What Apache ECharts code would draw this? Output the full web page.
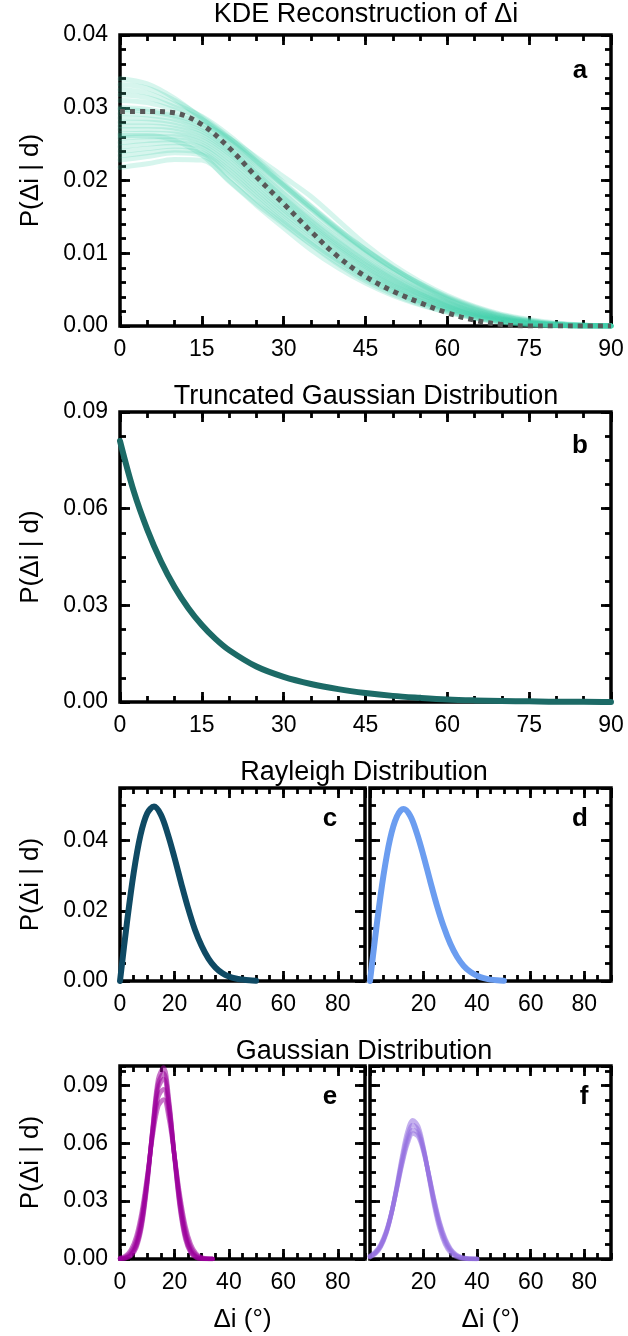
<!DOCTYPE html>
<html>
<head>
<meta charset="utf-8">
<script src="https://cdn.jsdelivr.net/npm/echarts@6/dist/echarts.min.js"></script>
<style>
  html, body { margin: 0; padding: 0; background: #fff; }
  #chart { width: 628px; height: 1336px; }
</style>
</head>
<body>
<div id="chart"></div>
<script>
// ---- Panel a: KDE reconstruction (posterior draws + dotted reference curve) ----
const kdeAngles = [0, 5, 10, 15, 20, 25, 30, 35, 40, 45, 50, 55, 60, 65, 70, 75, 80, 85, 90];
const kdeDraws = [
  [0.0340, 0.0333, 0.0313, 0.0285, 0.0255, 0.0224, 0.0193, 0.0162, 0.0132, 0.0104, 0.0079, 0.0058, 0.0040, 0.0026, 0.0015, 0.0008, 0.0003, 0.0001, 0],
  [0.0332, 0.0327, 0.0310, 0.0287, 0.0259, 0.0227, 0.0195, 0.0164, 0.0133, 0.0105, 0.0080, 0.0058, 0.0039, 0.0025, 0.0014, 0.0007, 0.0003, 0.0001, 0],
  [0.0325, 0.0320, 0.0305, 0.0288, 0.0262, 0.0230, 0.0197, 0.0165, 0.0134, 0.0105, 0.0080, 0.0057, 0.0038, 0.0024, 0.0014, 0.0007, 0.0003, 0.0001, 0],
  [0.0318, 0.0314, 0.0301, 0.0284, 0.0258, 0.0226, 0.0193, 0.0161, 0.0130, 0.0102, 0.0077, 0.0055, 0.0037, 0.0023, 0.0013, 0.0006, 0.0002, 0.0001, 0],
  [0.0310, 0.0307, 0.0297, 0.0280, 0.0254, 0.0221, 0.0188, 0.0157, 0.0127, 0.0099, 0.0074, 0.0053, 0.0036, 0.0022, 0.0012, 0.0006, 0.0002, 0.0001, 0],
  [0.0300, 0.0298, 0.0290, 0.0278, 0.0258, 0.0232, 0.0205, 0.0178, 0.0145, 0.0112, 0.0084, 0.0061, 0.0042, 0.0027, 0.0016, 0.0009, 0.0004, 0.0001, 0],
  [0.0298, 0.0295, 0.0288, 0.0274, 0.0249, 0.0216, 0.0182, 0.0150, 0.0121, 0.0094, 0.0070, 0.0050, 0.0033, 0.0020, 0.0011, 0.0005, 0.0002, 0, 0],
  [0.0292, 0.0290, 0.0284, 0.0271, 0.0246, 0.0213, 0.0179, 0.0147, 0.0118, 0.0091, 0.0068, 0.0048, 0.0032, 0.0019, 0.0010, 0.0005, 0.0002, 0, 0],
  [0.0286, 0.0285, 0.0280, 0.0268, 0.0243, 0.0210, 0.0176, 0.0144, 0.0115, 0.0089, 0.0066, 0.0047, 0.0031, 0.0019, 0.0010, 0.0005, 0.0002, 0, 0],
  [0.0280, 0.0280, 0.0276, 0.0265, 0.0240, 0.0207, 0.0173, 0.0141, 0.0112, 0.0086, 0.0064, 0.0045, 0.0030, 0.0018, 0.0009, 0.0004, 0.0001, 0, 0],
  [0.0275, 0.0275, 0.0272, 0.0262, 0.0237, 0.0204, 0.0170, 0.0139, 0.0110, 0.0084, 0.0062, 0.0044, 0.0029, 0.0017, 0.0009, 0.0004, 0.0001, 0, 0],
  [0.0270, 0.0270, 0.0268, 0.0258, 0.0234, 0.0201, 0.0167, 0.0136, 0.0108, 0.0082, 0.0060, 0.0043, 0.0028, 0.0017, 0.0009, 0.0004, 0.0001, 0, 0],
  [0.0264, 0.0265, 0.0264, 0.0255, 0.0230, 0.0197, 0.0163, 0.0133, 0.0105, 0.0080, 0.0058, 0.0041, 0.0027, 0.0016, 0.0008, 0.0004, 0.0001, 0, 0],
  [0.0262, 0.0262, 0.0255, 0.0235, 0.0200, 0.0168, 0.0140, 0.0112, 0.0085, 0.0062, 0.0044, 0.0030, 0.0019, 0.0011, 0.0005, 0.0002, 0, 0, 0],
  [0.0258, 0.0260, 0.0260, 0.0251, 0.0226, 0.0193, 0.0160, 0.0130, 0.0102, 0.0077, 0.0056, 0.0040, 0.0026, 0.0015, 0.0008, 0.0003, 0.0001, 0, 0],
  [0.0252, 0.0255, 0.0256, 0.0248, 0.0222, 0.0189, 0.0156, 0.0127, 0.0099, 0.0075, 0.0055, 0.0038, 0.0025, 0.0015, 0.0008, 0.0003, 0.0001, 0, 0],
  [0.0246, 0.0250, 0.0252, 0.0245, 0.0218, 0.0185, 0.0153, 0.0124, 0.0096, 0.0072, 0.0053, 0.0037, 0.0024, 0.0014, 0.0007, 0.0003, 0.0001, 0, 0],
  [0.0240, 0.0244, 0.0247, 0.0241, 0.0214, 0.0181, 0.0149, 0.0120, 0.0093, 0.0070, 0.0051, 0.0035, 0.0023, 0.0013, 0.0007, 0.0003, 0.0001, 0, 0],
  [0.0234, 0.0238, 0.0242, 0.0238, 0.0210, 0.0177, 0.0145, 0.0116, 0.0090, 0.0067, 0.0049, 0.0034, 0.0022, 0.0012, 0.0006, 0.0002, 0.0001, 0, 0],
  [0.0228, 0.0233, 0.0238, 0.0235, 0.0206, 0.0173, 0.0142, 0.0113, 0.0087, 0.0065, 0.0047, 0.0032, 0.0021, 0.0012, 0.0006, 0.0002, 0.0001, 0, 0],
  [0.0218, 0.0223, 0.0229, 0.0228, 0.0199, 0.0166, 0.0135, 0.0105, 0.0080, 0.0059, 0.0042, 0.0029, 0.0019, 0.0011, 0.0005, 0.0002, 0, 0, 0]
];
const kdeMedian = [0.0295, 0.0295, 0.0293, 0.0277, 0.0245, 0.0205, 0.0168, 0.0130, 0.0095, 0.0068, 0.0048, 0.0032, 0.0018, 0.0008, 0.0002, 0, 0, 0, 0];

// ---- Panel b: truncated Gaussian ----
const truncAngles = [0, 2.5, 5, 7.5, 10, 12.5, 15, 17.5, 20, 25, 30, 35, 40, 45, 50, 55, 60, 65, 70, 75, 80, 85, 90];
const truncValues = [0.081, 0.0655, 0.0535, 0.0437, 0.0357, 0.0292, 0.0239, 0.0196, 0.0161, 0.0110, 0.0078, 0.0056, 0.0040, 0.0028, 0.0019, 0.0013, 0.0008, 0.0005, 0.0003, 0.0002, 0.0001, 0.0001, 0];

// ---- Panels c, d: Rayleigh ----
const rayAngles = [0, 2.5, 5, 7.5, 10, 12.5, 15, 17.5, 20, 22.5, 25, 27.5, 30, 32.5, 35, 37.5, 40, 42.5, 45, 47.5, 50];
const rayleighC = [0, 0.0163, 0.0307, 0.0415, 0.0478, 0.0497, 0.0474, 0.0420, 0.0352, 0.0278, 0.0208, 0.0147, 0.0100, 0.0064, 0.0039, 0.0023, 0.0013, 0.0007, 0.0004, 0.0002, 0.0001];
const rayleighD = [0, 0.0159, 0.0299, 0.0405, 0.0468, 0.0490, 0.0471, 0.0421, 0.0356, 0.0284, 0.0215, 0.0155, 0.0106, 0.0069, 0.0043, 0.0026, 0.0015, 0.0008, 0.0004, 0.0002, 0.0001];

// ---- Panels e, f: Gaussian ----
const gaussAnglesE = [0, 2, 4, 6, 8, 10, 12, 14, 16, 18, 20, 22, 24, 26, 28, 30, 32, 34];
const gaussE = [
  [0.0001, 0.0003, 0.0016, 0.0059, 0.0171, 0.0387, 0.0681, 0.0932, 0.0992, 0.0822, 0.0529, 0.0265, 0.0103, 0.0031, 0.0007, 0.0001, 0, 0],
  [0.0001, 0.0005, 0.0020, 0.0068, 0.0185, 0.0397, 0.0675, 0.0907, 0.0962, 0.0806, 0.0532, 0.0278, 0.0115, 0.0037, 0.0009, 0.0002, 0, 0],
  [0.0001, 0.0006, 0.0024, 0.0077, 0.0198, 0.0406, 0.0669, 0.0882, 0.0933, 0.0790, 0.0536, 0.0292, 0.0127, 0.0044, 0.0012, 0.0003, 0.0001, 0],
  [0.0003, 0.0011, 0.0035, 0.0097, 0.0221, 0.0418, 0.0652, 0.0836, 0.0880, 0.0758, 0.0535, 0.0312, 0.0150, 0.0060, 0.0020, 0.0006, 0.0001, 0],
  [0.0005, 0.0016, 0.0047, 0.0117, 0.0245, 0.0431, 0.0636, 0.0790, 0.0826, 0.0725, 0.0535, 0.0332, 0.0173, 0.0076, 0.0028, 0.0009, 0.0002, 0.0001]
];
const gaussAnglesF = [0, 2, 4, 6, 8, 10, 12, 14, 16, 18, 20, 22, 24, 26, 28, 30, 32, 34, 36, 38, 40];
const gaussF = [
  [0.0010, 0.0026, 0.0062, 0.0129, 0.0235, 0.0378, 0.0533, 0.0661, 0.0719, 0.0687, 0.0577, 0.0425, 0.0275, 0.0156, 0.0078, 0.0034, 0.0013, 0.0004, 0.0001, 0, 0],
  [0.0012, 0.0030, 0.0067, 0.0133, 0.0236, 0.0371, 0.0517, 0.0637, 0.0694, 0.0668, 0.0570, 0.0430, 0.0287, 0.0170, 0.0089, 0.0042, 0.0017, 0.0006, 0.0002, 0, 0],
  [0.0013, 0.0033, 0.0071, 0.0137, 0.0237, 0.0365, 0.0501, 0.0612, 0.0668, 0.0649, 0.0562, 0.0434, 0.0299, 0.0183, 0.0100, 0.0049, 0.0021, 0.0008, 0.0003, 0.0001, 0],
  [0.0016, 0.0037, 0.0076, 0.0142, 0.0240, 0.0362, 0.0491, 0.0597, 0.0650, 0.0634, 0.0554, 0.0435, 0.0306, 0.0192, 0.0109, 0.0055, 0.0025, 0.0010, 0.0004, 0.0001, 0]
];

// ---- Text ----
const panelTitles = ['KDE Reconstruction of \u0394i', 'Truncated Gaussian Distribution', 'Rayleigh Distribution', 'Gaussian Distribution'];
const panelLetters = ['a', 'b', 'c', 'd', 'e', 'f'];
const yName = 'P(\u0394i | d)';
const xName = '\u0394i (\u00b0)';

const FONT = '"Liberation Sans", Arial, Helvetica, sans-serif';

// Layout of the six plotting boxes; axis ranges: [min, max, major step, minor step]
const panels = [
  { grid: { left: 120, top: 35, width: 491, height: 291 }, x: [0, 90, 15, 5], y: [0, 0.04, 0.01, 0.002], yLabels: true, hideMinX: false, hideMaxX: false, hideMaxY: false, xTitle: '' },
  { grid: { left: 120, top: 412, width: 491, height: 290 }, x: [0, 90, 15, 5], y: [0, 0.09, 0.03, 0.0075], yLabels: true, hideMinX: false, hideMaxX: false, hideMaxY: false, xTitle: '' },
  { grid: { left: 120, top: 788, width: 245, height: 193 }, x: [0, 90, 20, 5], y: [0, 0.055, 0.02, 0.005], yLabels: true, hideMinX: false, hideMaxX: true, hideMaxY: true, xTitle: '' },
  { grid: { left: 370, top: 788, width: 241, height: 193 }, x: [0, 90, 20, 5], y: [0, 0.055, 0.02, 0.005], yLabels: false, hideMinX: true, hideMaxX: true, hideMaxY: true, xTitle: '' },
  { grid: { left: 120, top: 1066, width: 245, height: 193 }, x: [0, 90, 20, 5], y: [0, 0.1, 0.03, 0.0075], yLabels: true, hideMinX: false, hideMaxX: true, hideMaxY: true, xTitle: xName },
  { grid: { left: 370, top: 1066, width: 241, height: 193 }, x: [0, 90, 20, 5], y: [0, 0.1, 0.03, 0.0075], yLabels: false, hideMinX: true, hideMaxX: true, hideMaxY: true, xTitle: xName }
];

const grids = [], xAxes = [], yAxes = [], series = [];

panels.forEach((p, i) => {
  grids.push(Object.assign({ show: true, borderColor: '#000', borderWidth: 3.5, backgroundColor: 'transparent', containLabel: false }, p.grid));
  // four x axes per box: bottom major/minor, top major/minor
  [['bottom', true], ['bottom', false], ['top', true], ['top', false]].forEach(([pos, major]) => {
    const labelled = pos === 'bottom' && major;
    xAxes.push({
      type: 'value', gridIndex: i, position: pos,
      min: p.x[0], max: p.x[1], interval: major ? p.x[2] : p.x[3],
      axisLine: { show: false, onZero: false },
      splitLine: { show: false },
      axisTick: { show: true, inside: true, length: major ? 10 : 6, lineStyle: { color: '#000', width: 2.8 } },
      axisLabel: {
        show: labelled, margin: 12, color: '#000', fontSize: 23, fontFamily: FONT,
        showMinLabel: !p.hideMinX, showMaxLabel: !p.hideMaxX
      },
      name: labelled ? p.xTitle : '',
      nameLocation: 'middle', nameGap: 48,
      nameTextStyle: { color: '#000', fontSize: 26, fontFamily: FONT }
    });
  });
  [['left', true], ['left', false], ['right', true], ['right', false]].forEach(([pos, major]) => {
    const labelled = pos === 'left' && major && p.yLabels;
    yAxes.push({
      type: 'value', gridIndex: i, position: pos,
      min: p.y[0], max: p.y[1], interval: major ? p.y[2] : p.y[3],
      axisLine: { show: false, onZero: false },
      splitLine: { show: false },
      axisTick: { show: true, inside: true, length: major ? 10 : 6, lineStyle: { color: '#000', width: 2.8 } },
      axisLabel: {
        show: labelled, margin: 12, color: '#000', fontSize: 23, fontFamily: FONT,
        showMaxLabel: !p.hideMaxY,
        formatter: v => v.toFixed(2)
      },
      name: labelled ? yName : '',
      nameLocation: 'middle', nameGap: 76, nameRotate: 90,
      nameTextStyle: { color: '#000', fontSize: 26, fontFamily: FONT }
    });
  });
});

function pairs(xs, ys) { return xs.map((x, k) => [x, ys[k]]); }

function curve(panel, xs, ys, color, width, opacity, extra) {
  series.push(Object.assign({
    type: 'line', xAxisIndex: panel * 4, yAxisIndex: panel * 4,
    data: pairs(xs, ys), smooth: 0.35, showSymbol: false, symbol: 'none',
    silent: true, animation: false,
    lineStyle: { color: color, width: width, opacity: opacity, cap: 'round', join: 'round' }
  }, extra || {}));
}

// a: posterior KDE draws and dotted reference curve on top
kdeDraws.forEach(d => curve(0, kdeAngles, d, '#45d3ab', 5, 0.22));
curve(0, kdeAngles, kdeMedian, '#585858', 5, 1, { z: 5 });
series[series.length - 1].lineStyle.type = [5, 5];
series[series.length - 1].lineStyle.cap = 'butt';

// b: truncated Gaussian
curve(1, truncAngles, truncValues, '#1c6a66', 6, 1);

// c, d: Rayleigh
curve(2, rayAngles, rayleighC, '#0f4a64', 6, 1);
curve(3, rayAngles, rayleighD, '#6b9df0', 6, 1);

// e, f: Gaussian
gaussE.forEach(d => curve(4, gaussAnglesE, d, '#9a009a', 4.5, 0.55));
gaussF.forEach(d => curve(5, gaussAnglesF, d, '#9470e0', 4.5, 0.55));

const titleStyle = { color: '#000', fontSize: 27, fontWeight: 'normal', fontFamily: FONT };
const letterStyle = { color: '#000', fontSize: 26, fontWeight: 'bold', fontFamily: FONT };
const titles = [
  { text: panelTitles[0], left: 366, top: 1, textAlign: 'center', textStyle: titleStyle },
  { text: panelTitles[1], left: 366, top: 383, textAlign: 'center', textStyle: titleStyle },
  { text: panelTitles[2], left: 364, top: 759, textAlign: 'center', textStyle: titleStyle },
  { text: panelTitles[3], left: 364, top: 1038, textAlign: 'center', textStyle: titleStyle },
  { text: panelLetters[0], left: 580, top: 58, textAlign: 'center', textStyle: letterStyle },
  { text: panelLetters[1], left: 580, top: 433, textAlign: 'center', textStyle: letterStyle },
  { text: panelLetters[2], left: 330, top: 806, textAlign: 'center', textStyle: letterStyle },
  { text: panelLetters[3], left: 580, top: 806, textAlign: 'center', textStyle: letterStyle },
  { text: panelLetters[4], left: 330, top: 1084, textAlign: 'center', textStyle: letterStyle },
  { text: panelLetters[5], left: 584, top: 1084, textAlign: 'center', textStyle: letterStyle }
];
titles.forEach(t => { t.padding = 0; });

const chart = echarts.init(document.getElementById('chart'), null, { renderer: 'canvas' });
chart.setOption({
  backgroundColor: '#fff',
  animation: false,
  title: titles,
  grid: grids,
  xAxis: xAxes,
  yAxis: yAxes,
  series: series
});
</script>
</body>
</html>
